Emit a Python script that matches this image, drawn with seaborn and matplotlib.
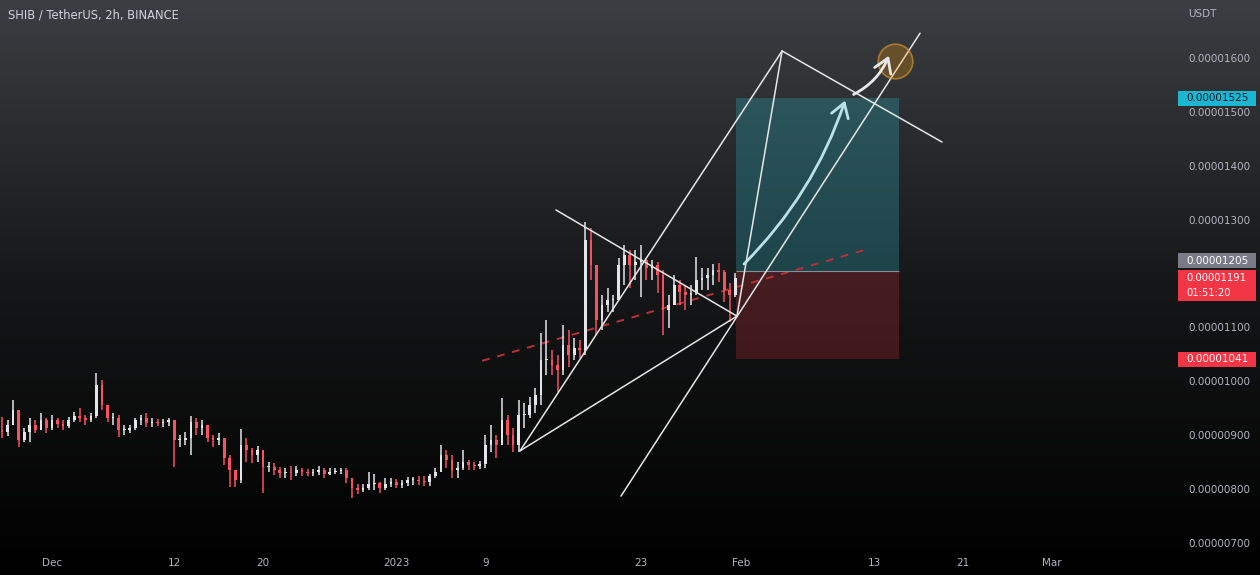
import numpy as np
import pandas as pd
import matplotlib
matplotlib.use("Agg")
import matplotlib.pyplot as plt
import seaborn as sns
from matplotlib.patches import Rectangle, FancyArrowPatch
from matplotlib.transforms import IdentityTransform
from matplotlib.colors import LinearSegmentedColormap

# ---------------- data (prices in units of 0.00000001 USDT) ----------------
UNIT = 1e-8
candle_start = "2022-11-26 12:00"
candle_freq = "12h"
first_open = 910
highs = [934, 928, 965, 947, 913, 932, 928, 941, 932, 938,
         932, 928, 934, 943, 951, 938, 941, 1016, 1003, 956,
         941, 938, 919, 919, 932, 938, 941, 932, 930, 930,
         932, 928, 900, 906, 936, 932, 928, 913, 900, 904,
         891, 863, 830, 912, 895, 876, 880, 873, 850, 849,
         841, 839, 843, 843, 839, 837, 837, 843, 839, 839,
         839, 839, 839, 817, 810, 810, 832, 828, 813, 821,
         821, 819, 817, 823, 823, 824, 824, 828, 839, 882,
         873, 863, 850, 873, 854, 850, 852, 900, 919, 900,
         969, 938, 913, 965, 960, 971, 988, 1090, 1114, 1058,
         1049, 1105, 1095, 1080, 1077, 1296, 1285, 1207, 1160, 1173,
         1160, 1229, 1253, 1244, 1244, 1253, 1229, 1225, 1221, 1207,
         1160, 1197, 1188, 1179, 1179, 1231, 1210, 1210, 1218, 1220,
         1207, 1183, 1201]
lows = [895, 899, 925, 878, 887, 887, 904, 910, 904, 910,
        913, 910, 913, 925, 925, 919, 925, 932, 947, 925,
        919, 897, 900, 904, 910, 919, 915, 915, 917, 915,
        917, 841, 878, 882, 863, 900, 900, 887, 878, 882,
        845, 804, 804, 811, 850, 849, 850, 793, 832, 826,
        821, 821, 817, 824, 824, 824, 824, 826, 821, 826,
        828, 828, 811, 784, 791, 795, 798, 798, 793, 798,
        804, 802, 802, 806, 808, 808, 806, 806, 821, 832,
        839, 821, 821, 836, 836, 836, 837, 839, 869, 858,
        886, 882, 869, 869, 913, 932, 941, 956, 1012, 1012,
        980, 1012, 1027, 1040, 1043, 1049, 1188, 1086, 1095, 1129,
        1129, 1151, 1179, 1173, 1188, 1157, 1188, 1188, 1164, 1086,
        1099, 1142, 1142, 1132, 1142, 1160, 1170, 1170, 1179, 1184,
        1147, 1110, 1157]
closes = [906, 919, 947, 891, 906, 919, 910, 928, 913, 928,
          921, 917, 928, 936, 932, 928, 936, 993, 956, 932,
          932, 910, 910, 913, 928, 932, 923, 925, 923, 925,
          928, 891, 891, 895, 925, 913, 919, 895, 891, 895,
          858, 836, 817, 882, 873, 863, 873, 841, 841, 836,
          830, 832, 830, 836, 832, 830, 832, 836, 828, 832,
          834, 836, 821, 802, 798, 802, 810, 811, 802, 810,
          813, 808, 811, 817, 817, 815, 813, 824, 832, 863,
          854, 836, 839, 850, 845, 843, 847, 882, 891, 882,
          928, 900, 882, 938, 938, 956, 975, 1040, 1040, 1030,
          1021, 1067, 1049, 1062, 1058, 1262, 1216, 1114, 1142, 1151,
          1151, 1216, 1234, 1216, 1221, 1225, 1210, 1216, 1197, 1132,
          1142, 1179, 1166, 1160, 1164, 1188, 1192, 1197, 1207, 1203,
          1170, 1160, 1191]

# drawing anchors (time, price)
pt_A = ("2023-01-12 03:00", 871)
pt_B = ("2023-02-04 17:00", 1613)
pt_C = ("2023-01-31 15:30", 1121)
pt_D = ("2023-01-15 08:30", 1318)
pt_E = ("2023-02-19 02:30", 1444)
pt_F = ("2023-01-21 05:00", 787)
pt_G = ("2023-02-17 03:00", 1646)
white_lines = [(pt_D, pt_C), (pt_A, pt_B), (pt_B, pt_E), (pt_B, pt_C), (pt_A, pt_C), (pt_F, pt_G)]
dashed_line = (("2023-01-08 17:00", 1038), ("2023-02-12 04:00", 1244))
box_start, box_end = "2023-01-31 13:30", "2023-02-15 05:30"
entry_price, target_price, stop_price = 1205, 1525, 1041
last_price = 1191
countdown = "01:51:20"
circle_pt = ("2023-02-14 21:00", 1594)
arrow1 = (("2023-02-01 02:30", 1214), ("2023-02-10 11:00", 1526))
arrow2 = (("2023-02-10 22:00", 1530), ("2023-02-14 10:00", 1609))

tick_dates = ["2022-12-01", "2022-12-12", "2022-12-20", "2023-01-01", "2023-01-09",
              "2023-01-23", "2023-02-01", "2023-02-13", "2023-02-21", "2023-03-01"]
tick_labels = ["Dec", "12", "20", "2023", "9", "23", "Feb", "13", "21", "Mar"]
# 0.00001200 is hidden behind the price tags in the original
price_ticks = [700, 800, 900, 1000, 1100, 1300, 1400, 1500, 1600]
title = "SHIB / TetherUS, 2h, BINANCE"

# ---------------- helpers ----------------
T0 = pd.Timestamp("2022-12-01")
def dnum(t):
    return (pd.Timestamp(t) - T0) / pd.Timedelta("1D")

sns.set_theme(style="dark")
plt.rcParams["font.family"] = ["DejaVu Sans"]

W, H = 1260, 575
fig = plt.figure(figsize=(W / 100, H / 100), dpi=100)
fig.patch.set_facecolor("black")

# background gradient
bg = fig.add_axes([0, 0, 1, 1])
bg.set_zorder(0)
cmap = LinearSegmentedColormap.from_list("bg", ["#000000", "#151617", "#3b3e42"])
bg.imshow(np.linspace(0, 1, 256).reshape(-1, 1)[::-1], aspect="auto", cmap=cmap,
          extent=[0, 1, 0, 1], origin="upper")
bg.axis("off")

ax = fig.add_axes([0, 27 / H, 1175 / W, 548 / H])
ax.set_zorder(1)
ax.patch.set_alpha(0)
for s in ax.spines.values():
    s.set_visible(False)
ax.grid(False)

# candles
times = pd.date_range(candle_start, periods=len(closes), freq=candle_freq)
xs = np.array([dnum(t) for t in times])
c = np.array(closes, float)
o = np.concatenate([[first_open], c[:-1]])
hi = np.maximum(np.array(highs, float), np.maximum(o, c))
lo = np.minimum(np.array(lows, float), np.minimum(o, c))
up = c >= o
red, white = "#f7525f", "#e3e5ea"
cols = np.where(up, white, red)
ax.vlines(xs, lo, hi, colors=cols, lw=1.1, zorder=3)
body_h = np.maximum(np.abs(c - o), 1.5)
ax.bar(xs, body_h, bottom=np.minimum(o, c), width=0.24, color=cols, linewidth=0, zorder=3)

# dashed red line
(d0, p0), (d1, p1) = dashed_line
ax.plot([dnum(d0), dnum(d1)], [p0, p1], color="#b8313a", lw=1.4, ls=(0, (4, 4)), zorder=2)

# position tool
bx0, bx1 = dnum(box_start), dnum(box_end)
ax.add_patch(Rectangle((bx0, entry_price), bx1 - bx0, target_price - entry_price,
                       facecolor=(0.16, 0.67, 0.73, 0.3), edgecolor="none", zorder=1))
ax.add_patch(Rectangle((bx0, stop_price), bx1 - bx0, entry_price - stop_price,
                       facecolor=(0.95, 0.21, 0.27, 0.22), edgecolor="none", zorder=1))
ax.hlines(entry_price, bx0, bx1, color="#8a8d96", lw=0.8, zorder=2)

# white trend lines
for (ta, pa), (tb, pb) in white_lines:
    ax.plot([dnum(ta), dnum(tb)], [pa, pb], color="#e6e6e6", lw=1.1, zorder=4)

# circle
ax.scatter([dnum(circle_pt[0])], [circle_pt[1]], s=620, facecolor=(1.0, 0.6, 0.0, 0.25),
           edgecolor=(0.85, 0.6, 0.2, 0.65), linewidth=1.2, zorder=5)

# arrows
for (sa, sb), colr, rad in [(arrow1, "#b9e3e6", 0.12), (arrow2, "#e8e8e8", 0.2)]:
    ax.add_patch(FancyArrowPatch((dnum(sa[0]), sa[1]), (dnum(sb[0]), sb[1]),
                                 arrowstyle="->,head_length=0.55,head_width=0.35",
                                 mutation_scale=18, connectionstyle=f"arc3,rad={rad}",
                                 color=colr, lw=2.0, zorder=6))

# axes limits (pixel-calibrated)
ax.set_xlim(-4.68, 101.07)
ax.set_ylim(690.7, 1707.6)

ax.set_xticks([dnum(t) for t in tick_dates])
ax.set_xticklabels(tick_labels)
ax.tick_params(axis="x", length=0, pad=7, labelsize=7.5, colors="#b2b5be")
ax.yaxis.tick_right()
ax.set_yticks(price_ticks)
ax.set_yticklabels([f"{v * UNIT:.8f}" for v in price_ticks])
ax.tick_params(axis="y", length=0, pad=9.4, labelsize=7.5, colors="#b2b5be")

fig.text(8 / W, 1 - 15 / H, title, color="#d1d4dc", fontsize=8.3, va="center", ha="left")
fig.text(1188 / W, 1 - 14 / H, "USDT", color="#b2b5be", fontsize=7.5, va="center", ha="left")

# price tags on the scale
def ydisp(p):
    return ax.transData.transform((0, p))[1]

def tag(yc, h, fc, lines, tc, fs=7.5):
    fig.add_artist(Rectangle((1178, yc - h / 2), 78, h, transform=IdentityTransform(),
                             facecolor=fc, edgecolor="none", zorder=10))
    for txt, dy in lines:
        fig.text(1186 / W, (yc + dy) / H, txt, color=tc, fontsize=fs, va="center", ha="left",
                 zorder=11)

tag(ydisp(target_price), 15, "#1bb6d1", [(f"{target_price * UNIT:.8f}", 0)], "#131722")
tag(ydisp(entry_price) + 10, 15, "#787b86", [(f"{entry_price * UNIT:.8f}", 0)], "#ffffff")
yl = ydisp(last_price)
tag(yl - 7.5, 31, "#f23645", [(f"{last_price * UNIT:.8f}", 7.5), (countdown, -7)], "#ffffff", fs=7.2)
tag(ydisp(stop_price), 15, "#f23645", [(f"{stop_price * UNIT:.8f}", 0)], "#ffffff")

fig.savefig("out.png", dpi=100, facecolor=fig.get_facecolor())
